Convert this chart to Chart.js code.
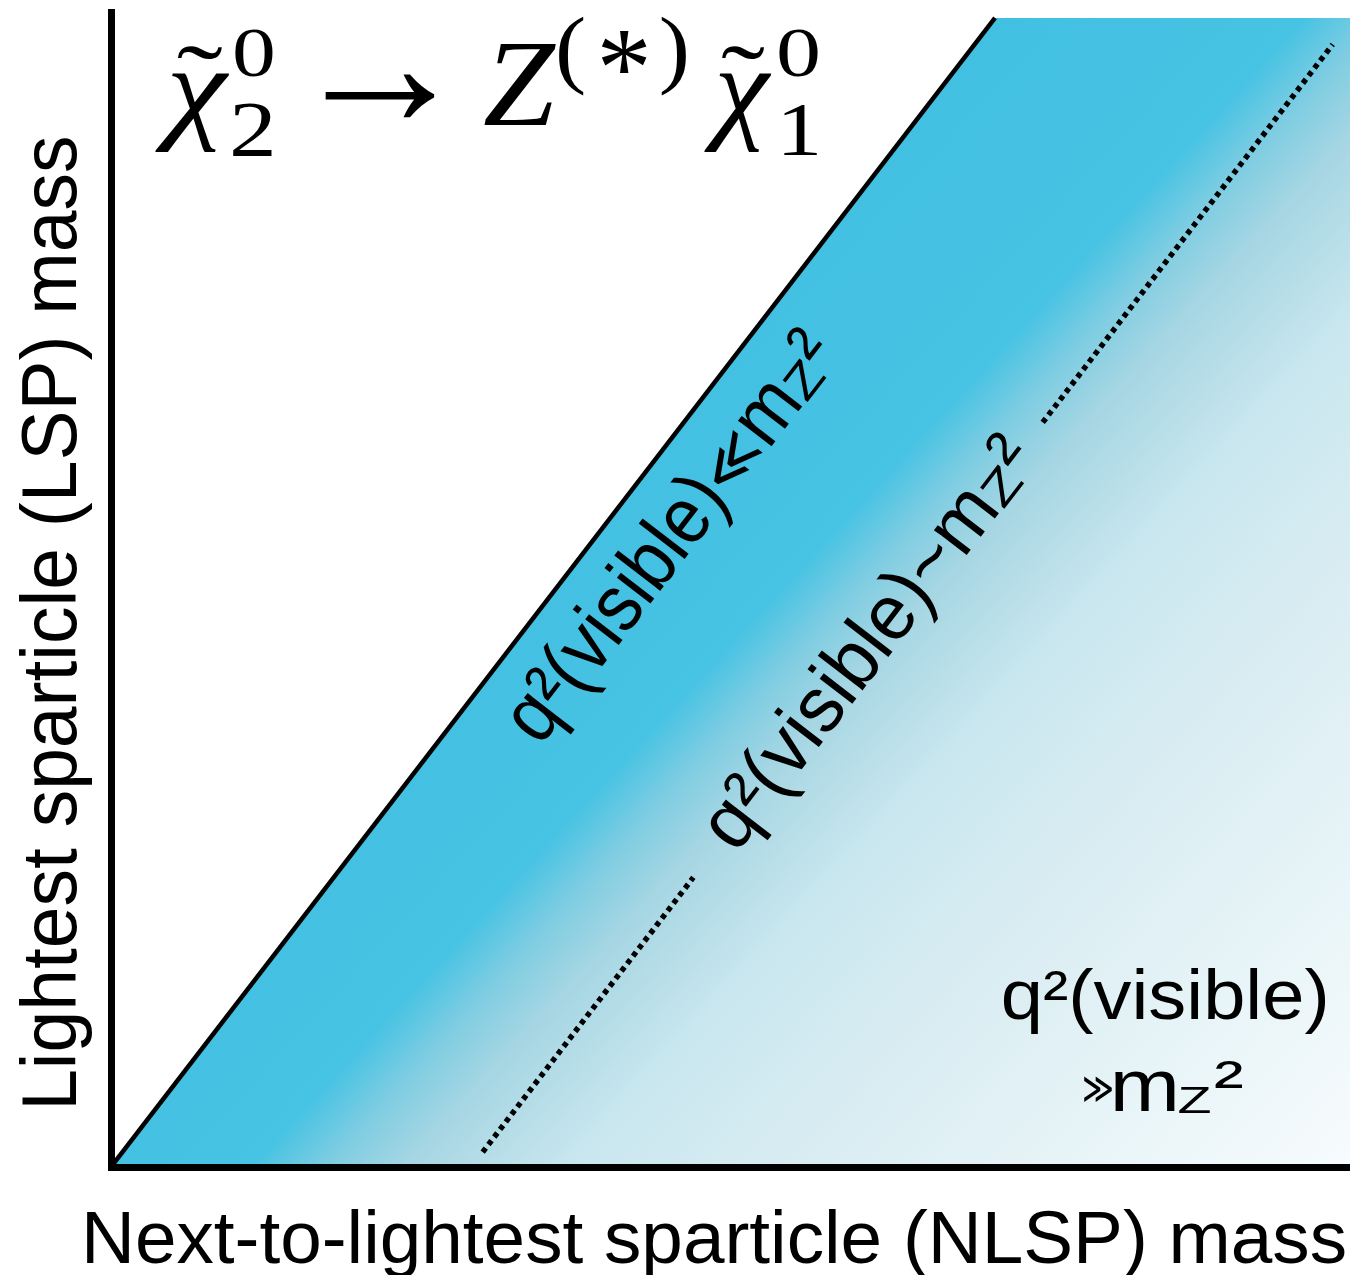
<!DOCTYPE html>
<html>
<head>
<meta charset="utf-8">
<script src="https://cdn.jsdelivr.net/npm/chart.js@4.4.1/dist/chart.umd.min.js"></script>
<style>
  html, body { margin: 0; padding: 0; background: #ffffff; }
  #wrap { width: 1350px; height: 1275px; position: relative; }
</style>
</head>
<body>
<div id="wrap"><canvas id="c" width="1350" height="1275"></canvas></div>
<script>
// ---- data (axis units 0..100) ----
const boundaryX = [0, 71.35, 100];      // kinematic boundary + top edge of allowed region
const boundaryY = [0, 100, 100];
const diagonalX = [0, 71.35];           // m(LSP) = m(NLSP) line
const diagonalY = [0, 100];
const dottedX = [30.0, 47.0, 61.0, 75.2, 98.6];   // Δm ≈ mZ line (gap for label)
const dottedY = [1.3, 25.2, null, 64.8, 97.7];

const xTitle = 'Next-to-lightest sparticle (NLSP) mass';
const yTitle = 'Lightest sparticle (LSP) mass';
const regionLabels = ['q²(visible)', '≪', '~', '≫', 'm', 'Z', '²'];

const toPts = (xs, ys) => xs.map((x, i) => ({ x: x, y: ys[i] }));

const SANS = '"Liberation Sans", Arial, Helvetica, "DejaVu Sans", sans-serif';
const SERIF = '"Liberation Serif", "Times New Roman", "DejaVu Serif", serif';

function fitBox(ctx, text, font, x0, y0, x1, y1) {
  ctx.font = font;
  const m = ctx.measureText(text);
  const w = m.actualBoundingBoxLeft + m.actualBoundingBoxRight;
  const h = m.actualBoundingBoxAscent + m.actualBoundingBoxDescent;
  ctx.save();
  ctx.translate(x0, y0);
  ctx.scale((x1 - x0) / w, (y1 - y0) / h);
  ctx.fillText(text, m.actualBoundingBoxLeft, m.actualBoundingBoxAscent);
  ctx.restore();
}

function drawRun(ctx, pieces, size, family, ox, oy, angle, inkLen) {
  let pen = 0, inkL = null, inkR = 0;
  const items = [];
  for (const p of pieces) {
    const fs = size * (p.k || 1);
    const font = fs + 'px ' + family;
    ctx.font = font;
    const m = ctx.measureText(p.t);
    const sx = p.sx || 1;
    if (inkL === null) inkL = pen - m.actualBoundingBoxLeft * sx;
    inkR = pen + m.actualBoundingBoxRight * sx;
    items.push({ t: p.t, font: font, x: pen, dy: (p.dy || 0) * size, sx: sx });
    pen += m.width * sx + (p.gap || 0) * size;
  }
  const s = inkLen ? inkLen / (inkR - inkL) : 1;
  ctx.save();
  ctx.translate(ox, oy);
  ctx.rotate(angle);
  ctx.scale(s, 1);
  ctx.translate(-inkL, 0);
  for (const it of items) {
    ctx.save();
    ctx.font = it.font;
    ctx.translate(it.x, it.dy);
    ctx.scale(it.sx, 1);
    ctx.fillText(it.t, 0, 0);
    ctx.restore();
  }
  ctx.restore();
}

const annotations = {
  id: 'annotations',
  afterDraw(chart) {
    const ctx = chart.ctx;
    const xs = chart.scales.x, ys = chart.scales.y;
    ctx.save();
    ctx.fillStyle = '#000';
    ctx.textAlign = 'left';
    ctx.textBaseline = 'alphabetic';

    // --- title: chi2 -> Z(*) chi1 ---
    const it = 'italic 120px ' + SERIF, up = '120px ' + SERIF;
    fitBox(ctx, 'χ', it, 155, 72, 230, 152);
    fitBox(ctx, '˜', up, 178, 45, 223, 58);
    fitBox(ctx, '0', up, 235, 30, 273, 77);
    fitBox(ctx, '2', up, 233, 103, 272, 155);
    fitBox(ctx, '→', up, 325, 74, 435, 118);
    fitBox(ctx, 'Z', it, 484, 43, 556, 125);
    fitBox(ctx, '(', up, 559, 16, 584, 96);
    fitBox(ctx, '*', up, 601, 30, 647, 73);
    fitBox(ctx, ')', up, 661, 16, 686, 96);
    fitBox(ctx, 'χ', it, 704, 72, 772, 152);
    fitBox(ctx, '˜', up, 722, 45, 765, 58);
    fitBox(ctx, '0', up, 779, 30, 818, 77);
    fitBox(ctx, '1', up, 784, 104, 817, 155);

    // --- axis titles ---
    drawRun(ctx, [{ t: xTitle }], 74, SANS, 87, 1263, 0, 1258);
    drawRun(ctx, [{ t: yTitle }], 77, SANS, 76, 1105, -Math.PI / 2, 967);

    // --- rotated region labels along the diagonal ---
    const O = { x: xs.getPixelForValue(diagonalX[0]), y: ys.getPixelForValue(diagonalY[0]) };
    const E = { x: xs.getPixelForValue(diagonalX[1]), y: ys.getPixelForValue(diagonalY[1]) };
    const L = Math.hypot(E.x - O.x, E.y - O.y);
    const u = { x: (E.x - O.x) / L, y: (E.y - O.y) / L };
    const v = { x: -u.y, y: u.x };
    const ang = Math.atan2(u.y, u.x);
    const at = (s, d) => ({ x: O.x + s * u.x + d * v.x, y: O.y + s * u.y + d * v.y });

    const p1 = at(597, 84);
    drawRun(ctx, [
      { t: regionLabels[0] },
      { t: regionLabels[1], k: 0.8, dy: -0.02, gap: 0.02 },
      { t: regionLabels[4] },
      { t: regionLabels[5], k: 0.6, sx: 1.3, dy: 0.02 },
      { t: regionLabels[6] }
    ], 80, SANS, p1.x, p1.y, ang, 490);

    const p2 = at(632, 305);
    drawRun(ctx, [
      { t: regionLabels[0] },
      { t: regionLabels[2], k: 1.0, dy: 0.0 },
      { t: regionLabels[4] },
      { t: regionLabels[5], k: 0.6, sx: 1.3, dy: 0.02 },
      { t: regionLabels[6] }
    ], 78, SANS, p2.x, p2.y, ang, 493);

    // --- horizontal label, bottom right ---
    drawRun(ctx, [{ t: regionLabels[0] }], 70, SANS, 1003, 1019, 0, 322);
    fitBox(ctx, regionLabels[3], '60px ' + SANS, 1084, 1076, 1112, 1102);
    fitBox(ctx, regionLabels[4], '80px ' + SANS, 1115, 1071, 1175, 1111);
    fitBox(ctx, regionLabels[5], '40px ' + SANS, 1179, 1087, 1211, 1113);
    fitBox(ctx, regionLabels[6], '70px ' + SANS, 1215, 1061, 1242, 1088);

    ctx.restore();
  }
};

function regionGradient(context) {
  const chart = context.chart;
  const a = chart.chartArea;
  if (!a) return '#44C1E2';
  const w = a.right - a.left, h = a.bottom - a.top;
  const g = chart.ctx.createLinearGradient(
    a.left + 0.3535 * w, a.top + 0.4256 * h,
    a.left + 0.9704 * w, a.top + 1.0326 * h);
  g.addColorStop(0.0, '#42C0E2');
  g.addColorStop(0.22, '#47C3E3');
  g.addColorStop(0.275, '#80CDE2');
  g.addColorStop(0.33, '#A6D6E3');
  g.addColorStop(0.45, '#CAE7EF');
  g.addColorStop(0.645, '#DCEEF3');
  g.addColorStop(0.82, '#E9F5F8');
  g.addColorStop(1.0, '#F7FBFD');
  return g;
}

new Chart(document.getElementById('c'), {
  type: 'line',
  data: {
    datasets: [
      {
        label: 'allowed region',
        data: toPts(boundaryX, boundaryY),
        fill: 'origin',
        backgroundColor: regionGradient,
        borderWidth: 0,
        borderColor: 'rgba(0,0,0,0)',
        pointRadius: 0,
        tension: 0,
        order: 3
      },
      {
        label: 'diagonal',
        data: toPts(diagonalX, diagonalY),
        fill: false,
        borderColor: '#000',
        borderWidth: 4.5,
        pointRadius: 0,
        tension: 0,
        order: 2
      },
      {
        label: 'mZ line',
        data: toPts(dottedX, dottedY),
        fill: false,
        borderColor: '#000',
        borderWidth: 5.5,
        borderDash: [5, 4.5],
        borderCapStyle: 'butt',
        spanGaps: false,
        pointRadius: 0,
        tension: 0,
        order: 1
      }
    ]
  },
  options: {
    responsive: false,
    devicePixelRatio: 1,
    animation: false,
    events: [],
    layout: { padding: { left: 111, top: 12, right: 0, bottom: 108 } },
    plugins: { legend: { display: false }, title: { display: false }, tooltip: { enabled: false } },
    scales: {
      x: {
        type: 'linear', min: 0, max: 100,
        grid: { display: false, drawTicks: false },
        ticks: { display: false },
        border: { display: true, color: '#000', width: 7, z: 1 }
      },
      y: {
        type: 'linear', min: 0, max: 100.52,
        grid: { display: false, drawTicks: false },
        ticks: { display: false },
        border: { display: true, color: '#000', width: 7, z: 1 }
      }
    }
  },
  plugins: [annotations]
});
</script>
</body>
</html>
